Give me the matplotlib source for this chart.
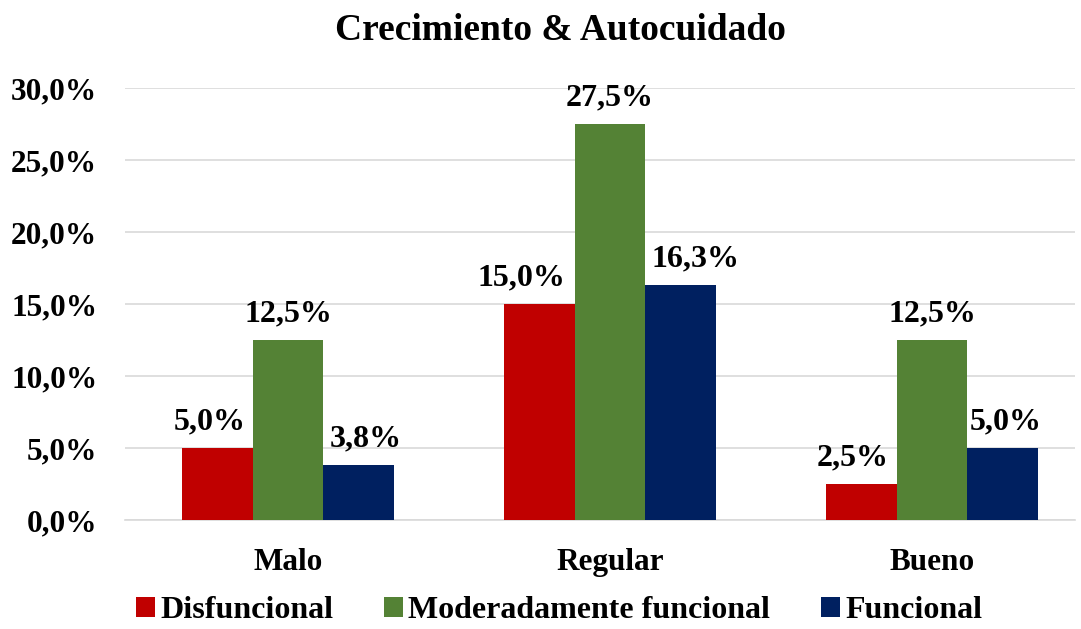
import matplotlib.pyplot as plt
import numpy as np
from matplotlib.ticker import FuncFormatter

categorias = ['Malo', 'Regular', 'Bueno']
series = ['Disfuncional', 'Moderadamente funcional', 'Funcional']
disfuncional = [5.0, 15.0, 2.5]
moderado = [12.5, 27.5, 12.5]
funcional = [3.8, 16.3, 5.0]
colores = ['#C00000', '#548235', '#002060']

plt.rcParams['font.family'] = ['Liberation Serif', 'DejaVu Serif']
plt.rcParams['font.weight'] = 'bold'

fig = plt.figure(figsize=(10.81, 6.29), dpi=100)
ax = fig.add_axes([125 / 1081, 1 - 520 / 629, 950 / 1081, 432 / 629])

x = np.arange(len(categorias))
ancho = 0.22
valores = [disfuncional, moderado, funcional]
# pequeño desplazamiento horizontal de las etiquetas (como en el original)
desplaz = [[-0.022, -0.056, -0.028], [0, 0, 0], [0.022, 0.047, 0.01]]
for i, (nombre, vals, c) in enumerate(zip(series, valores, colores)):
    barras = ax.bar(x + (i - 1) * ancho, vals, ancho, color=c, label=nombre, zorder=3)
    for j, (b, v) in enumerate(zip(barras, vals)):
        ax.text(b.get_x() + b.get_width() / 2 + desplaz[i][j], v + 0.8,
                f'{v:.1f}%'.replace('.', ','),
                ha='center', va='bottom', fontsize=23, fontweight='bold')

ax.set_xlim(-0.506, 2.444)
ax.set_ylim(0, 30)
ax.set_yticks(np.arange(0, 31, 5))
ax.yaxis.set_major_formatter(FuncFormatter(lambda v, p: f'{v:.1f}%'.replace('.', ',')))
ax.grid(axis='y', color='#D9D9D9', linewidth=1.2, zorder=0)
for s in ['top', 'right', 'left']:
    ax.spines[s].set_visible(False)
ax.spines['bottom'].set_color('#D9D9D9')
ax.spines['bottom'].set_linewidth(1.2)
ax.tick_params(axis='both', length=0, labelsize=22.5)
ax.tick_params(axis='y', pad=20)
ax.tick_params(axis='x', pad=20)
ax.set_xticks(x)
ax.set_xticklabels(categorias)
for lbl in ax.get_xticklabels() + ax.get_yticklabels():
    lbl.set_fontweight('bold')

fig.text(560 / 1081, 1 - 31 / 629, 'Crecimiento & Autocuidado', ha='center', va='center',
         fontsize=27, fontweight='bold')

fig.legend(loc='center', bbox_to_anchor=(559 / 1081, 1 - 611 / 629), ncol=3, frameon=False,
           prop={'size': 23, 'weight': 'bold'}, handlelength=0.6, handleheight=0.6,
           handletextpad=0.15, columnspacing=1.6)

fig.savefig('out.png', dpi=100)
